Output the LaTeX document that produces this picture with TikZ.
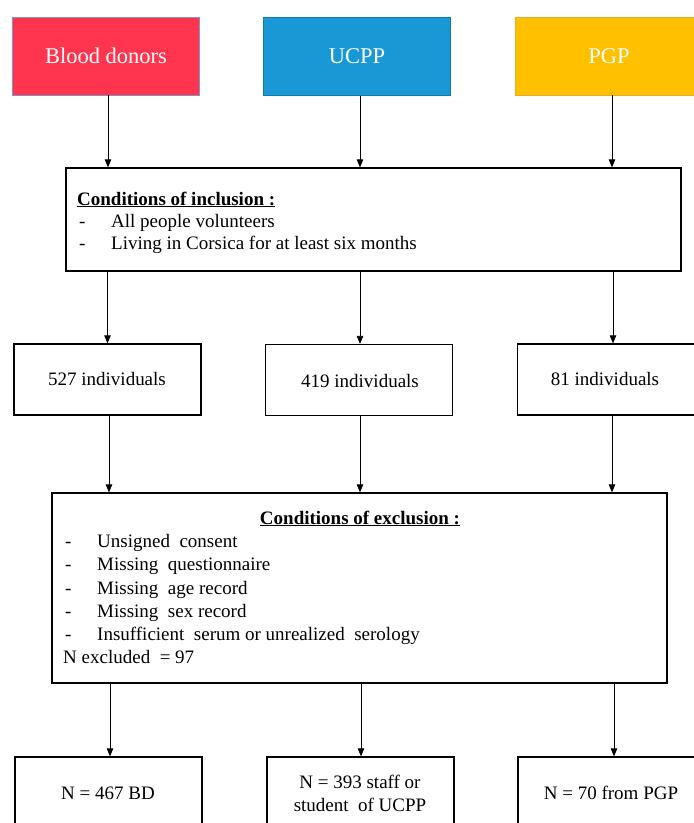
\documentclass[tikz,border=0pt]{standalone}
\usepackage{fontspec}
\setmainfont{Liberation Serif}
\usetikzlibrary{arrows.meta}
\definecolor{bdred}{HTML}{FF354F}
\definecolor{ucblue}{HTML}{1A98D5}
\definecolor{pgyellow}{HTML}{FFC000}
\definecolor{bdborder}{HTML}{7F97C0}
\definecolor{pgborder}{HTML}{E3AC2A}
\tikzset{
  topbox/.style={draw, line width=0.9pt, minimum width=187pt, minimum height=78pt, inner sep=0pt,
    text=white, font=\fontsize{22.5}{26}\selectfont},
  plainbox/.style={draw, line width=1.3pt, inner sep=0pt},
  smallbox/.style={plainbox, minimum width=187pt, minimum height=71pt},
  bottombox/.style={plainbox, minimum width=187pt, minimum height=80pt},
  bigbox/.style={plainbox, minimum width=615pt},
  txt/.style={inner sep=0pt, font=\fontsize{19}{23}\selectfont},
  arr/.style={-{Triangle[length=8pt,width=6.5pt]}, line width=0.8pt},
}
\begin{document}
\begin{tikzpicture}[x=1pt,y=1pt]
\clip (0,0) rectangle (694,-823);
\fill[white] (0,0) rectangle (694,-823);

% top row
\node[topbox, fill=bdred, draw=bdborder] (bd) at (106,-56) {Blood donors};
\node[topbox, fill=ucblue, draw=ucblue!80!black] (uc) at (357,-56.5) {UCPP};
\node[topbox, fill=pgyellow, draw=pgborder] (pg) at (609,-56) {PGP};

% inclusion
\node[bigbox, minimum height=103pt] (incl) at (373.5,-219.5) {};
\node[txt, anchor=base west] (incT) at (77,-205) {\textbf{\underline{Conditions of inclusion :}}};
\node[txt, anchor=base west] (incD1) at (79,-227.5) {-};
\node[txt, anchor=base west] (inc1) at (111,-227.5) {All people volunteers};
\node[txt, anchor=base west] (incD2) at (79,-249.5) {-};
\node[txt, anchor=base west] (inc2) at (111,-249.5) {Living in Corsica for at least six months};

% individuals
\node[smallbox] (i1) at (107.5,-379.5) {};
\node[txt] (i1t) at (107,-379) {527 individuals};
\node[smallbox] (i2) at (359,-380) {};
\node[txt] (i2t) at (360,-380.5) {419 individuals};
\node[smallbox] (i3) at (611,-379.5) {};
\node[txt] (i3t) at (605,-379) {81 individuals};

% exclusion
\node[bigbox, minimum height=190pt] (excl) at (359.5,-588) {};
\node[txt, anchor=base] (excT) at (360,-524) {\textbf{\underline{Conditions of exclusion :}}};
\foreach \i/\t/\y in {1/Unsigned \ consent/547,2/Missing \ questionnaire/570.5,3/Missing \ age record/594,4/Missing \ sex record/617.5,5/Insufficient \ serum or unrealized \ serology/640.5}{
  \node[txt, anchor=base west] (excD\i) at (65,-\y) {-};
  \node[txt, anchor=base west] (exc\i) at (97,-\y) {\t};
}
\node[txt, anchor=base west] (excN) at (63,-663) {N excluded \ = 97};

% bottom
\node[bottombox] (b1) at (108.5,-797) {};
\node[txt] (b1t) at (108,-793) {N = 467 BD};
\node[bottombox] (b2) at (360.5,-797) {};
\node[txt, align=center] (b2t) at (360,-793.5) {N = 393 staff or\\[-0.5pt] student \ of UCPP};
\node[bottombox] (b3) at (611.5,-797) {};
\node[txt] (b3t) at (611,-793) {N = 70 from PGP};

% connectors
\draw[arr] (bd.south -| 108,0) -- (108,0 |- incl.north);
\draw[arr] (uc.south -| 360,0) -- (360,0 |- incl.north);
\draw[arr] (pg.south -| 612,0) -- (612,0 |- incl.north);

\draw[arr] (incl.south -| i1) -- (i1.north);
\draw[arr] (incl.south -| 360,0) -- (360,0 |- i2.north);
\draw[arr] (incl.south -| 613,0) -- (613,0 |- i3.north);

\draw[arr] (i1.south -| 109,0) -- (109,0 |- excl.north);
\draw[arr] (i2.south -| 360,0) -- (360,0 |- excl.north);
\draw[arr] (i3.south -| 612,0) -- (612,0 |- excl.north);

\draw[arr] (excl.south -| 110,0) -- (110,0 |- b1.north);
\draw[arr] (excl.south -| 361,0) -- (361,0 |- b2.north);
\draw[arr] (excl.south -| 614,0) -- (614,0 |- b3.north);
\end{tikzpicture}
\end{document}
